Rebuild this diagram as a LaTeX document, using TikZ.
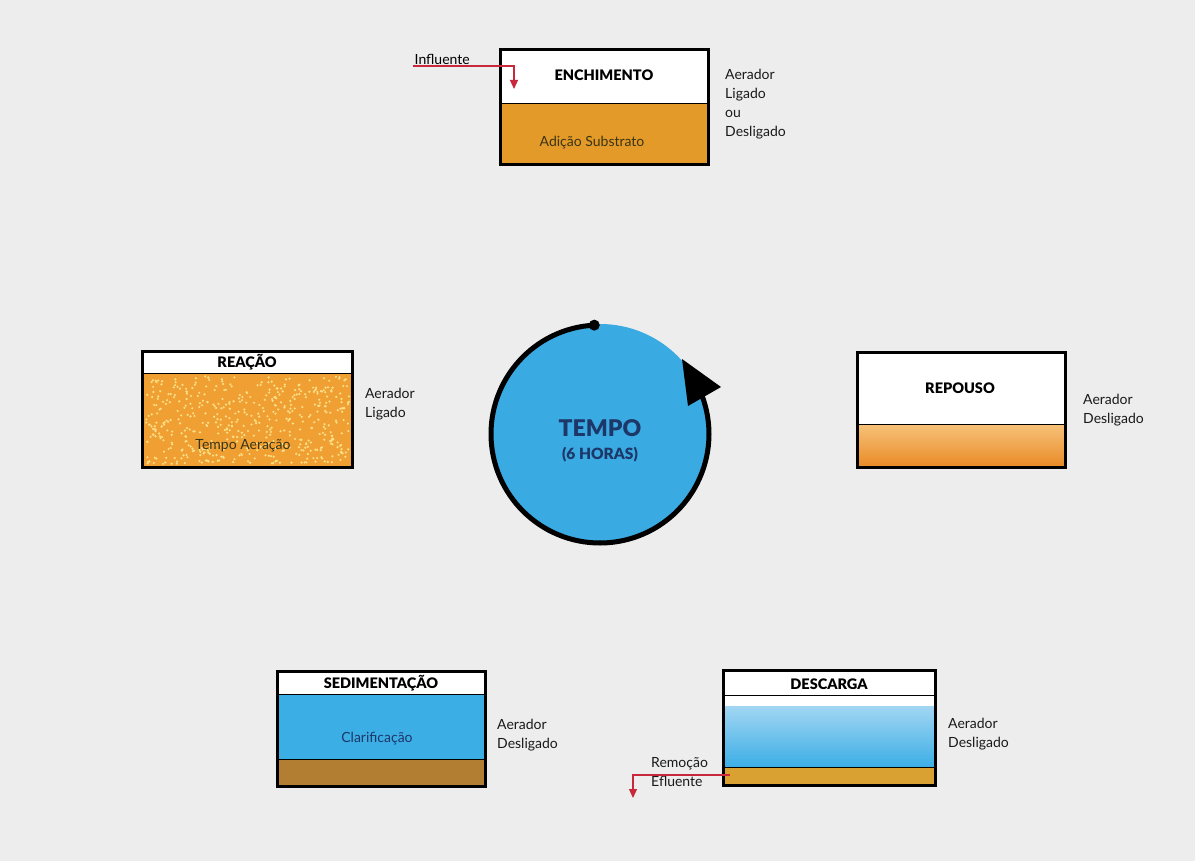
\documentclass[tikz,border=0pt]{standalone}
\usepackage{fontspec}
\setmainfont{Lato}
\newfontfamily\heavy{Lato Black}
\usetikzlibrary{arrows.meta}

\definecolor{paper}{HTML}{EDEDED}
\definecolor{sludge}{HTML}{E39A28}
\definecolor{mixliq}{HTML}{F0A032}
\definecolor{bubble}{HTML}{FBE08A}
\definecolor{settleTop}{HTML}{F7C27A}
\definecolor{settleBot}{HTML}{E98A26}
\definecolor{water}{HTML}{3CAEE6}
\definecolor{waterTop}{HTML}{A2D6F3}
\definecolor{mud}{HTML}{B27E32}
\definecolor{gold}{HTML}{D9A032}
\definecolor{clockblue}{HTML}{3AAAE2}
\definecolor{navy}{HTML}{1C3768}
\definecolor{flowred}{HTML}{C8283C}
\definecolor{inktext}{HTML}{3A3414}

\begin{document}
\begin{tikzpicture}[x=1pt,y=-1pt,
  tank/.style={draw=black, line width=3pt},
  divider/.style={draw=black, line width=0.9pt},
  title/.style={font=\heavy\fontsize{14.5}{16}\selectfont, text=black, inner sep=0},
  inside/.style={font=\fontsize{14}{16}\selectfont, text=inktext, inner sep=0},
  note/.style={font=\fontsize{14}{19}\selectfont, align=left, anchor=north west, inner sep=0, text=black!90},
  flow/.style={draw=flowred, line width=1.2pt, -{Triangle[length=9pt,width=8pt]}}
]
\useasboundingbox (0,0) rectangle (1195,861);
\fill[paper] (0,0) rectangle (1195,861);

% ---------- ENCHIMENTO ----------
\fill[white] (500,50) rectangle (708,103);
\fill[sludge] (500,103) rectangle (708,165);
\draw[divider] (500,103) -- (708,103);
\draw[tank] (500,50) rectangle (708,165);
\node[title] (encT) at (604,75) {ENCHIMENTO};
\node[inside] (encS) at (592,143) {Adição Substrato};
\node[note] (encA) at (725,69) {Aerador\\Ligado\\ou\\Desligado};
\node[font=\fontsize{14}{16}\selectfont, inner sep=1.5pt, anchor=south west] (infl) at (413,66) {Influente};
\coordinate (fillin) at (514,89);
\draw[flow] (infl.south west) -| (fillin);

% ---------- REAÇÃO ----------
\fill[white] (142,351) rectangle (352,373);
\fill[mixliq] (142,373) rectangle (352,467);
\pgfmathsetseed{12}
\foreach \k in {1,...,520}{
  \pgfmathsetmacro\px{145+rnd*204}
  \pgfmathsetmacro\py{376+rnd*88}
  \fill[bubble] (\px,\py) circle (1.2);
}
\draw[divider] (142,373) -- (352,373);
\draw[tank] (142,351) rectangle (352,467);
\node[title] (reaT) at (247,362) {REAÇÃO};
\node[inside] (reaS) at (243,446) {Tempo Aeração};
\node[note] (reaA) at (365,388) {Aerador\\Ligado};

% ---------- REPOUSO ----------
\fill[white] (857,352) rectangle (1065,424);
\shade[top color=settleTop, bottom color=settleBot] (857,424) rectangle (1065,467);
\draw[divider] (857,424) -- (1065,424);
\draw[tank] (857,352) rectangle (1065,467);
\node[title] (repT) at (960,388) {REPOUSO};
\node[note] (repA) at (1083,394) {Aerador\\Desligado};

% ---------- SEDIMENTAÇÃO ----------
\fill[white] (277,671) rectangle (485,694);
\fill[water] (277,694) rectangle (485,759);
\fill[mud] (277,759) rectangle (485,786);
\draw[divider] (277,694) -- (485,694);
\draw[divider] (277,759) -- (485,759);
\draw[tank] (277,671) rectangle (485,786);
\node[title] (sedT) at (381,683) {SEDIMENTAÇÃO};
\node[inside, text=navy] (sedS) at (377,739) {Clarificação};
\node[note] (sedA) at (497,719) {Aerador\\Desligado};

% ---------- DESCARGA ----------
\fill[white] (723,670) rectangle (935,706);
\shade[top color=waterTop, bottom color=water] (723,706) rectangle (935,767);
\fill[gold] (723,767) rectangle (935,785);
\draw[divider] (723,695) -- (935,695);
\draw[divider] (723,767) -- (935,767);
\draw[tank] (723,670) rectangle (935,785);
\node[title] (desT) at (829,684) {DESCARGA};
\node[note] (desA) at (948,718) {Aerador\\Desligado};
\node[note] (desR) at (651,757) {Remoção\\Efluente};
\coordinate (outflow) at (730,775);
\coordinate (drain) at (633,798);
\draw[flow] (outflow) -| (drain);

% ---------- cycle clock ----------
\node[circle, fill=clockblue, minimum size=220pt, inner sep=0] (clock) at (600,434) {};
\node[font=\heavy\fontsize{23}{26}\selectfont, text=navy, inner sep=0] (tempo) at (600,428) {TEMPO};
\node[font=\heavy\fontsize{15.5}{18}\selectfont, text=navy, inner sep=0] (horas) at (600,455) {(6 HORAS)};
\draw[line width=5pt] (clock.center) ++(-93:109) arc[start angle=-93, end angle=-381, radius=109];
\fill (clock.center) ++(-93:109) circle (5.5);
\fill (682,359) -- (721,387) -- (688,406) -- cycle;
\end{tikzpicture}
\end{document}
